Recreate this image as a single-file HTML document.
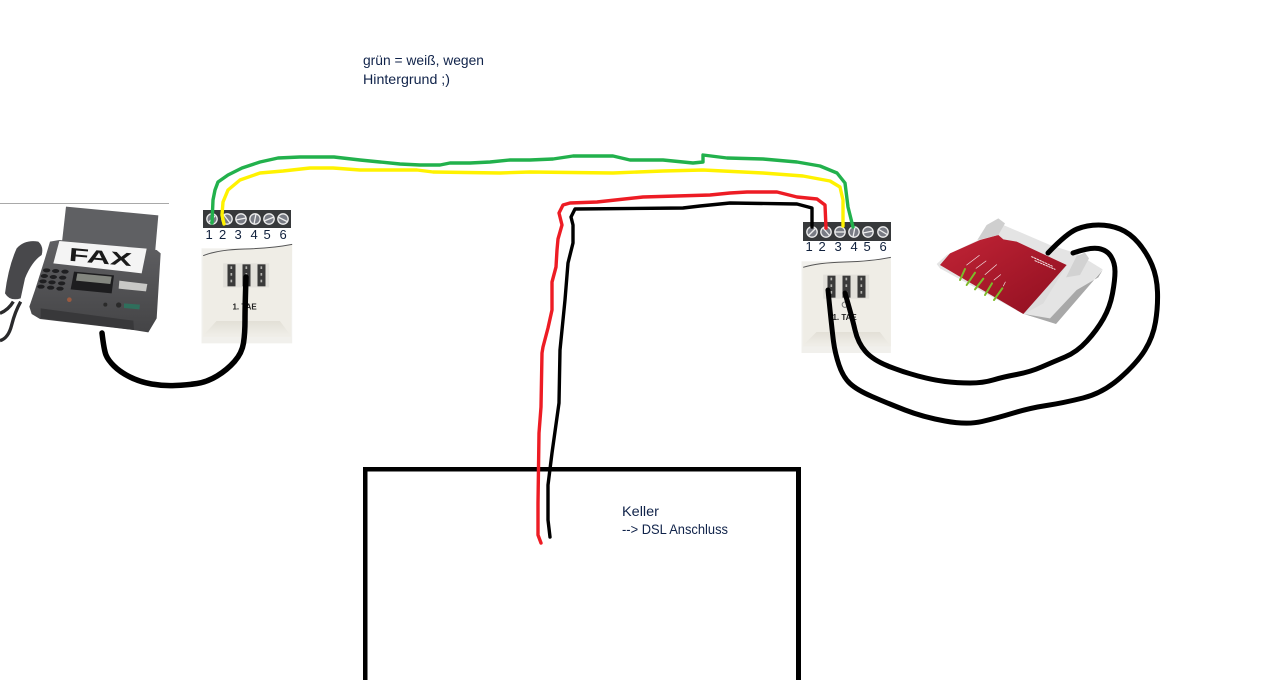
<!DOCTYPE html>
<html lang="de">
<head>
<meta charset="utf-8">
<title>TAE Verkabelung</title>
<style>
html,body{margin:0;padding:0;background:#fff;width:1280px;height:680px;overflow:hidden}
svg{display:block}
text{font-family:"Liberation Sans",sans-serif}
.w{fill:none;stroke-linejoin:round;stroke-linecap:round}
.n{font-size:13px;fill:#10203c}
.t{font-size:14px;fill:#10234a}
</style>
</head>
<body>
<svg width="1280" height="680" viewBox="0 0 1280 680" xmlns="http://www.w3.org/2000/svg">
<defs>
<linearGradient id="bv" x1="0" y1="0" x2="0" y2="1"><stop offset="0" stop-color="#e2dfd6"/><stop offset="1" stop-color="#f0eee8"/></linearGradient>
<linearGradient id="rd" x1="0" y1="0" x2="1" y2="1"><stop offset="0" stop-color="#c22436"/><stop offset="1" stop-color="#8f0f20"/></linearGradient>
<linearGradient id="fb" x1="0" y1="0" x2="0" y2="1"><stop offset="0" stop-color="#606063"/><stop offset="1" stop-color="#444446"/></linearGradient>
</defs>
<rect width="1280" height="680" fill="#fff"/>
<rect x="0" y="203" width="169" height="1" fill="#a9a9a9"/>

<!-- FAX -->
<g transform="translate(0,190) scale(.33333)">
<polygon points="198,50 475,76 465,190 185,165" fill="#5f6063"/>
<path d="M0,370 Q25,360 40,335 M0,452 Q25,445 35,405 Q45,365 62,335" fill="none" stroke="#2a2a2c" stroke-width="10"/>
<path d="M15,310 Q25,230 50,175 Q75,148 115,155 Q132,170 125,195 Q95,215 75,265 L62,325 Q30,335 15,310 Z" fill="#48484b"/>
<polygon points="88,350 105,300 135,205 150,155 178,150 470,180 482,190 470,385 445,427 400,420 120,387 95,372" fill="url(#fb)"/>
<polygon points="178,153 440,176 425,250 160,220" fill="#f4f4f4"/>
<text x="205" y="212" transform="rotate(5 205 212)" font-size="56" font-weight="bold" fill="#1a1a1a" style="font-family:'Liberation Sans',sans-serif" textLength="190" lengthAdjust="spacingAndGlyphs">FAX</text>
<g fill="#1f1f21">
<ellipse cx="140" cy="241" rx="11" ry="6"/><ellipse cx="167" cy="243" rx="11" ry="6"/><ellipse cx="195" cy="245" rx="11" ry="6"/>
<ellipse cx="133" cy="258" rx="11" ry="6"/><ellipse cx="160" cy="261" rx="11" ry="6"/><ellipse cx="188" cy="263" rx="11" ry="6"/>
<ellipse cx="129" cy="274" rx="11" ry="6"/><ellipse cx="156" cy="277" rx="11" ry="6"/><ellipse cx="185" cy="280" rx="11" ry="6"/>
<ellipse cx="123" cy="290" rx="11" ry="6"/><ellipse cx="152" cy="293" rx="11" ry="6"/><ellipse cx="180" cy="296" rx="11" ry="6"/>
</g>
<polygon points="222,245 342,256 335,310 212,298" fill="#1d1d1f"/>
<polygon points="232,250 335,260 331,282 228,272" fill="#83867f"/>
<polygon points="358,272 442,282 438,304 356,296" fill="#c8c8c6"/>
<polygon points="372,340 420,344 418,358 372,354" fill="#2f6f5c"/>
<circle cx="208" cy="329" r="7" fill="#9a5a40"/>
<circle cx="316" cy="344" r="6" fill="#2a2a2a"/><circle cx="356" cy="345" r="8" fill="#2a2a2a"/>
<polygon points="122,355 400,392 402,420 122,385" fill="#38383a"/>
</g>

<!-- LEFT TERMINAL -->
<rect x="203" y="210" width="88" height="18" fill="#37393b"/>
<g stroke="#eee" stroke-width="1.3">
<circle cx="212" cy="219" r="5.2" fill="#787b84"/><line x1="209" y1="222" x2="215" y2="216"/>
<circle cx="227" cy="219" r="5.2" fill="#787b84"/><line x1="224" y1="215" x2="230" y2="223"/>
<circle cx="241" cy="219" r="5.2" fill="#787b84"/><line x1="236" y1="220" x2="246" y2="218"/>
<circle cx="255" cy="219" r="5.2" fill="#787b84"/><line x1="254" y1="224" x2="256" y2="214"/>
<circle cx="269" cy="219" r="5.2" fill="#787b84"/><line x1="264" y1="221" x2="274" y2="217"/>
<circle cx="283" cy="219" r="5.2" fill="#787b84"/><line x1="278" y1="217" x2="288" y2="222"/>
</g>
<text class="n" x="205.500" y="239">1</text><text class="n" x="219" y="239">2</text><text class="n" x="234.500" y="239">3</text><text class="n" x="250.500" y="239">4</text><text class="n" x="263.500" y="239">5</text><text class="n" x="279.500" y="239">6</text>

<!-- LEFT TAE -->
<g transform="translate(201.500,245) scale(.33333)">
<rect x="0" y="10" width="272" height="285" fill="#f1f0ec"/>
<path d="M5,35 Q50,16 130,14 T272,0 L268,275 L5,275 Z" fill="#efede6"/>
<path d="M5,32 Q50,14 130,12 T272,-2" fill="none" stroke="#555" stroke-width="3"/>
<polygon points="5,272 45,228 235,228 268,272" fill="url(#bv)"/>
<rect x="65" y="55" width="138" height="72" fill="#e2e0da"/>
<g fill="#3a3a3a"><rect x="78" y="58" width="24" height="66"/><rect x="123" y="58" width="24" height="66"/><rect x="168" y="58" width="24" height="66"/></g>
<g fill="#b4b4b0"><rect x="87" y="64" width="5" height="8"/><rect x="87" y="84" width="5" height="8"/><rect x="87" y="104" width="5" height="8"/><rect x="132" y="64" width="5" height="8"/><rect x="132" y="84" width="5" height="8"/><rect x="132" y="104" width="5" height="8"/><rect x="177" y="64" width="5" height="8"/><rect x="177" y="84" width="5" height="8"/><rect x="177" y="104" width="5" height="8"/></g>
<text x="93" y="194" font-size="24" font-weight="bold" fill="#222" style="font-family:'Liberation Sans',sans-serif">1. TAE</text>
</g>

<!-- RIGHT TERMINAL -->
<rect x="803" y="222" width="88" height="19" fill="#37393b"/>
<g stroke="#eee" stroke-width="1.3">
<circle cx="812" cy="232" r="5.200" fill="#787b84"/><line x1="808" y1="236" x2="816" y2="228"/>
<circle cx="826" cy="232" r="5.200" fill="#787b84"/><line x1="823" y1="228" x2="830" y2="236"/>
<circle cx="840" cy="232" r="5.200" fill="#787b84"/><line x1="835" y1="232" x2="845" y2="232"/>
<circle cx="854" cy="232" r="5.200" fill="#787b84"/><line x1="853" y1="237" x2="855" y2="227"/>
<circle cx="868" cy="232" r="5.200" fill="#787b84"/><line x1="863" y1="233" x2="873" y2="231"/>
<circle cx="883" cy="232" r="5.200" fill="#787b84"/><line x1="878" y1="229" x2="888" y2="235"/>
</g>
<text class="n" x="805.500" y="251">1</text><text class="n" x="818.500" y="251">2</text><text class="n" x="834.500" y="251">3</text><text class="n" x="850.500" y="251">4</text><text class="n" x="863.500" y="251">5</text><text class="n" x="879.500" y="251">6</text>

<!-- RIGHT TAE -->
<g transform="translate(801.500,258) scale(.33333)">
<rect x="0" y="10" width="268" height="275" fill="#f1f0ec"/>
<path d="M5,30 Q50,16 130,14 T268,0 L268,265 L5,265 Z" fill="#efede6"/>
<path d="M5,28 Q50,14 130,12 T268,-2" fill="none" stroke="#555" stroke-width="3"/>
<polygon points="5,262 45,222 235,222 266,262" fill="url(#bv)"/>
<rect x="65" y="50" width="138" height="72" fill="#e2e0da"/>
<g fill="#3a3a3a"><rect x="78" y="53" width="24" height="66"/><rect x="123" y="53" width="24" height="66"/><rect x="168" y="53" width="24" height="66"/></g>
<g fill="#b4b4b0"><rect x="87" y="59" width="5" height="8"/><rect x="87" y="79" width="5" height="8"/><rect x="87" y="99" width="5" height="8"/><rect x="132" y="59" width="5" height="8"/><rect x="132" y="79" width="5" height="8"/><rect x="132" y="99" width="5" height="8"/><rect x="177" y="59" width="5" height="8"/><rect x="177" y="79" width="5" height="8"/><rect x="177" y="99" width="5" height="8"/></g>
<circle cx="130" cy="140" r="8" fill="none" stroke="#777" stroke-width="3"/>
<text x="93" y="186" font-size="24" font-weight="bold" fill="#222" style="font-family:'Liberation Sans',sans-serif">1. TAE</text>
</g>

<!-- ROUTER -->
<g transform="translate(790,190) scale(.33333)">
<polygon points="440,222 470,195 565,150 640,105 780,165 860,190 938,238 800,400 700,372 450,235" fill="#e4e4e4"/>
<polygon points="702,372 798,402 938,240 925,262 860,300 780,385" fill="#a8a8a8"/>
<polygon points="702,372 760,340 830,225 700,360" fill="#dcdcdc"/>
<polygon points="450,225 480,190 570,150 625,135 640,148 680,155 830,225 700,372" fill="url(#rd)"/>
<polygon points="562,150 590,105 625,85 645,100 625,135" fill="#cfcfcf"/>
<polygon points="828,262 860,198 885,188 897,205 870,255" fill="#d2d2d2"/>
<g stroke="#7dbb2b" stroke-width="6" stroke-linecap="round">
<line x1="510" y1="270" x2="525" y2="237"/><line x1="530" y1="285" x2="555" y2="248"/><line x1="555" y1="298" x2="580" y2="266"/><line x1="585" y1="315" x2="606" y2="280"/><line x1="612" y1="330" x2="637" y2="295"/>
</g>
<g stroke="#f3e7e7" stroke-width="2" stroke-linecap="round">
<line x1="530" y1="225" x2="568" y2="196"/><line x1="558" y1="235" x2="588" y2="213"/><line x1="585" y1="254" x2="620" y2="224"/><line x1="612" y1="270" x2="632" y2="254"/><line x1="640" y1="288" x2="646" y2="276"/>
<line x1="725" y1="200" x2="790" y2="230" stroke-dasharray="5 4" stroke-width="3"/><line x1="735" y1="212" x2="795" y2="238" stroke-dasharray="5 4" stroke-width="3"/>
</g>
</g>

<!-- BOX -->
<g fill="#000">
<rect x="363" y="467" width="438" height="4.500"/>
<rect x="363" y="467" width="4.500" height="213"/>
<rect x="796" y="467" width="5" height="213"/>
</g>

<!-- WIRES -->
<polyline class="w" stroke="#22b14c" stroke-width="3.4" points="212,223 213,200 215,190 218,182 228,175 242,168 260,162 278,158 300,157 334,157 360,160 380,162 400,164 420,165 440,165 450,163 470,163 490,162 510,160 530,160 553,159 573,156 613,156 630,160 663,160 693,163 703,162 703,155 727,158 763,159 797,162 820,166 837,173 845,183 848,207 853,227"/>
<polyline class="w" stroke="#fff200" stroke-width="3.4" points="224,224 222,215 223,202 228,190 240,180 260,173 283,171 310,168 333,168 360,170 417,170 433,172 500,173 530,172 613,173 663,171 703,170 763,173 803,176 830,181 840,187 843,200 843,226"/>
<polyline class="w" stroke="#ed1c24" stroke-width="3.4" points="541,543 538,535 538,503 539,433 541,407 542,353 543,347 548,328 552,310 552,282 556,267 557,250 558,239 562,225 559,213 563,205 570,203 597,202 643,197 710,195 730,193 747,192 777,192 797,197 817,199 825,205 826,228"/>
<polyline class="w" stroke="#000" stroke-width="3.4" points="550,537 548,520 548,485 552,453 559,403 560,350 565,300 568,263 573,243 573,225 571,217 575,209 683,208 700,206 730,203 797,204 812,208 812,227"/>
<path class="w" stroke="#000" stroke-width="5.500" d="M102,333 Q104,350 106,355 Q108,360 114,366 Q120,372 130,377 Q140,382 151.500,384 Q163,386 175,385.500 Q187,385 197,383.500 Q207,382 217,376 Q227,370 234.500,361.500 Q242,353 243.500,343 Q245,333 245,320 Q245,307 246,277"/>
<path class="w" stroke="#000" stroke-width="5" d="M845,293 Q852,317 855,330 Q858,343 865.500,351.500 Q873,360 888,366 Q903,372 918,376 Q933,380 945,381.500 Q957,383 970,383 Q983,383 993,380 Q1003,377 1016.500,374.500 Q1030,372 1041.500,367 Q1053,362 1065,357 Q1077,352 1087,341 Q1097,330 1103.500,318.500 Q1110,307 1112.500,293.500 Q1115,280 1115,271.500 Q1115,263 1111,256.500 Q1107,250 1098.500,248.500 Q1090,247 1073,253"/>
<path class="w" stroke="#000" stroke-width="5" d="M828,290 Q832,330 833.500,341.500 Q835,353 839,365 Q843,377 850,383.500 Q857,390 872,396.500 Q887,403 905,410 Q923,417 945,421 Q967,425 982,421.500 Q997,418 1013.500,413 Q1030,408 1046.500,405.500 Q1063,403 1083,398 Q1103,393 1120,378 Q1137,363 1145,350 Q1153,337 1155.500,322 Q1158,307 1157.500,292 Q1157,277 1152,265 Q1147,253 1138.500,243 Q1130,233 1120,229 Q1110,225 1098.500,225 Q1087,225 1077,229 Q1067,233 1048,253"/>

<!-- TEXT -->
<text class="t" x="363" y="65" textLength="121" lengthAdjust="spacingAndGlyphs">grün = weiß, wegen</text>
<text class="t" x="363" y="84" textLength="87" lengthAdjust="spacingAndGlyphs">Hintergrund ;)</text>
<text class="t" x="622" y="516" textLength="37" lengthAdjust="spacingAndGlyphs">Keller</text>
<text class="t" x="622" y="534" textLength="106" lengthAdjust="spacingAndGlyphs">--&gt; DSL Anschluss</text>
</svg>
</body>
</html>
